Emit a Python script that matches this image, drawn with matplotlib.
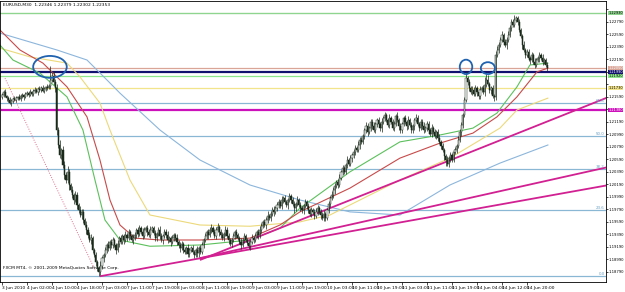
import numpy as np
import matplotlib
matplotlib.use('Agg')
import matplotlib.pyplot as plt
from matplotlib.patches import Ellipse

# EURUSD M30 closes, one per bar (3 Jun 18:00 -> 15 Jun 02:00)
closes = [
    1.2162, 1.2167, 1.2160, 1.2157, 1.2154, 1.2149, 1.2152, 1.2156, 1.2154, 1.2157,
    1.2159, 1.2156, 1.2160, 1.2162, 1.2159, 1.2164, 1.2165, 1.2162, 1.2167, 1.2164,
    1.2168, 1.2170, 1.2167, 1.2172, 1.2170, 1.2173, 1.2168, 1.2172, 1.2175, 1.2173,
    1.2176, 1.2186, 1.2192, 1.2183, 1.2173, 1.2106, 1.2082, 1.2066, 1.2074, 1.2050,
    1.2034, 1.2026, 1.2039, 1.2018, 1.2010, 1.2002, 1.1994, 1.2002, 1.1986, 1.1978,
    1.1970, 1.1975, 1.1962, 1.1954, 1.1946, 1.1938, 1.1930, 1.1933, 1.1914, 1.1906,
    1.1895, 1.1885, 1.1879, 1.1888, 1.1901, 1.1906, 1.1914, 1.1922, 1.1917, 1.1927,
    1.1922, 1.1930, 1.1922, 1.1914, 1.1924, 1.1933, 1.1927, 1.1936, 1.1930, 1.1938,
    1.1933, 1.1943, 1.1936, 1.1930, 1.1933, 1.1938, 1.1946, 1.1940, 1.1949, 1.1943,
    1.1936, 1.1946, 1.1949, 1.1943, 1.1938, 1.1946, 1.1949, 1.1941, 1.1933, 1.1940,
    1.1946, 1.1936, 1.1930, 1.1936, 1.1943, 1.1938, 1.1930, 1.1933, 1.1927, 1.1933,
    1.1938, 1.1933, 1.1927, 1.1922, 1.1917, 1.1924, 1.1914, 1.1911, 1.1917, 1.1908,
    1.1914, 1.1917, 1.1911, 1.1906, 1.1914, 1.1909, 1.1917, 1.1911, 1.1922, 1.1930,
    1.1936, 1.1943, 1.1938, 1.1946, 1.1949, 1.1943, 1.1936, 1.1946, 1.1951, 1.1943,
    1.1938, 1.1933, 1.1940, 1.1946, 1.1936, 1.1930, 1.1924, 1.1930, 1.1936, 1.1943,
    1.1938, 1.1933, 1.1927, 1.1922, 1.1930, 1.1936, 1.1930, 1.1925, 1.1920, 1.1927,
    1.1933, 1.1930, 1.1936, 1.1943, 1.1938, 1.1946, 1.1952, 1.1959, 1.1954, 1.1962,
    1.1968, 1.1965, 1.1972, 1.1978, 1.1975, 1.1981, 1.1986, 1.1991, 1.1984, 1.1994,
    1.1997, 1.1991, 1.1986, 1.1994, 1.2000, 1.1994, 1.1988, 1.1981, 1.1988, 1.1994,
    1.1986, 1.1981, 1.1978, 1.1984, 1.1991, 1.1984, 1.1978, 1.1972, 1.1978, 1.1975,
    1.1968, 1.1975, 1.1981, 1.1975, 1.1970, 1.1965, 1.1972, 1.1965, 1.1978, 1.1988,
    1.1997, 1.2002, 1.2010, 1.2016, 1.2023, 1.2018, 1.2029, 1.2039, 1.2045, 1.2039,
    1.2050, 1.2058, 1.2052, 1.2061, 1.2066, 1.2071, 1.2077, 1.2074, 1.2082, 1.2090,
    1.2087, 1.2096, 1.2106, 1.2112, 1.2103, 1.2109, 1.2119, 1.2112, 1.2106, 1.2116,
    1.2122, 1.2116, 1.2109, 1.2119, 1.2125, 1.2130, 1.2122, 1.2114, 1.2125, 1.2119,
    1.2109, 1.2116, 1.2128, 1.2122, 1.2112, 1.2106, 1.2116, 1.2125, 1.2119, 1.2112,
    1.2122, 1.2114, 1.2106, 1.2112, 1.2122, 1.2125, 1.2116, 1.2109, 1.2119, 1.2112,
    1.2106, 1.2109, 1.2116, 1.2106, 1.2100, 1.2109, 1.2103, 1.2096, 1.2103, 1.2093,
    1.2087, 1.2080, 1.2074, 1.2064, 1.2058, 1.2052, 1.2061, 1.2066, 1.2058, 1.2071,
    1.2074, 1.2080, 1.2090, 1.2103, 1.2114, 1.2130, 1.2154, 1.2189, 1.2183, 1.2173,
    1.2167, 1.2170, 1.2164, 1.2173, 1.2167, 1.2160, 1.2170, 1.2173, 1.2167, 1.2178,
    1.2186, 1.2179, 1.2170, 1.2173, 1.2160, 1.2158, 1.2226, 1.2234, 1.2242, 1.2250,
    1.2258, 1.2247, 1.2242, 1.2250, 1.2258, 1.2269, 1.2279, 1.2274, 1.2282, 1.2285,
    1.2279, 1.2266, 1.2256, 1.2242, 1.2234, 1.2226, 1.2231, 1.2221, 1.2218, 1.2226,
    1.2215, 1.2210, 1.2218, 1.2221, 1.2226, 1.2221, 1.2215, 1.2218, 1.2210, 1.2205,
]
first_open = 1.2158

# wick lengths above / below the body, in pips
up_wick = [
    4, 3, 5, 2, 3, 4, 3, 2, 4, 3,
    2, 5, 3, 4, 2, 3, 4, 3, 5, 2,
    3, 4, 3, 2, 4, 3, 5, 3, 2, 4,
    3, 22, 6, 8, 4, 6, 5, 8, 4, 6,
    7, 5, 9, 4, 3, 6, 4, 7, 5, 3,
    6, 4, 5, 3, 6, 4, 5, 7, 3, 4,
    5, 3, 4, 8, 4, 3, 5, 4, 6, 3,
    4, 5, 3, 4, 6, 3, 5, 4, 3, 6,
    4, 5, 3, 4, 6, 5, 3, 4, 5, 3,
    6, 4, 3, 5, 4, 6, 3, 4, 5, 3,
    4, 6, 5, 3, 4, 5, 6, 3, 4, 5,
    3, 4, 6, 3, 5, 4, 3, 5, 4, 6,
    3, 4, 5, 3, 4, 6, 3, 5, 5, 4,
    6, 3, 4, 5, 7, 3, 4, 5, 6, 3,
    4, 5, 3, 6, 4, 5, 3, 4, 6, 3,
    5, 4, 3, 6, 4, 5, 3, 4, 5, 3,
    6, 4, 5, 3, 4, 6, 5, 3, 4, 5,
    8, 3, 4, 5, 6, 3, 4, 5, 3, 6,
    4, 5, 3, 4, 6, 3, 5, 4, 3, 6,
    4, 5, 3, 4, 5, 3, 6, 4, 5, 3,
    4, 6, 5, 3, 4, 5, 6, 3, 4, 5,
    3, 6, 4, 5, 3, 4, 6, 3, 5, 4,
    3, 6, 4, 5, 3, 4, 5, 3, 6, 4,
    5, 3, 4, 6, 5, 3, 4, 5, 6, 3,
    4, 5, 3, 6, 4, 5, 3, 4, 6, 3,
    5, 4, 3, 6, 4, 5, 3, 4, 5, 3,
    6, 4, 5, 3, 4, 6, 5, 3, 4, 5,
    6, 3, 4, 5, 3, 6, 4, 5, 3, 4,
    6, 3, 5, 4, 3, 6, 4, 5, 3, 4,
    5, 3, 6, 4, 5, 3, 4, 12, 4, 5,
    3, 6, 4, 5, 3, 4, 6, 3, 5, 12,
    10, 8, 4, 3, 5, 4, 6, 6, 5, 4,
    7, 3, 5, 4, 6, 5, 4, 5, 8, 3,
    4, 5, 3, 4, 6, 3, 5, 4, 3, 5,
    4, 6, 3, 4, 5, 3, 6, 4, 3, 4,
]
dn_wick = [
    3, 4, 2, 5, 3, 2, 4, 3, 2, 4,
    3, 2, 4, 3, 5, 2, 3, 4, 2, 3,
    4, 3, 2, 5, 3, 4, 2, 3, 4, 3,
    2, 4, 3, 5, 6, 8, 5, 4, 7, 5,
    6, 4, 5, 8, 4, 5, 6, 4, 7, 5,
    4, 6, 5, 4, 7, 5, 4, 6, 5, 4,
    6, 5, 7, 5, 4, 6, 3, 5, 4, 3,
    5, 4, 3, 6, 4, 5, 3, 4, 6, 3,
    4, 3, 5, 4, 6, 3, 4, 5, 3, 4,
    5, 3, 4, 6, 3, 5, 4, 3, 5, 4,
    3, 5, 4, 6, 3, 4, 5, 3, 6, 4,
    4, 3, 5, 4, 6, 3, 5, 4, 3, 5,
    6, 4, 3, 5, 4, 6, 7, 3, 4, 5,
    3, 4, 6, 3, 5, 4, 3, 5, 4, 6,
    4, 3, 5, 4, 3, 6, 4, 5, 3, 4,
    5, 3, 4, 6, 3, 5, 4, 3, 5, 6,
    3, 5, 4, 3, 6, 4, 5, 3, 4, 6,
    4, 3, 5, 4, 6, 3, 4, 5, 3, 4,
    5, 3, 4, 6, 3, 5, 4, 7, 5, 4,
    3, 5, 4, 6, 3, 4, 5, 3, 6, 4,
    4, 3, 5, 4, 6, 3, 4, 5, 3, 4,
    5, 3, 4, 6, 3, 5, 4, 3, 5, 4,
    3, 5, 4, 3, 6, 4, 5, 3, 4, 6,
    4, 3, 5, 4, 6, 3, 4, 5, 3, 4,
    5, 3, 4, 6, 3, 5, 4, 3, 5, 4,
    3, 5, 4, 3, 6, 4, 5, 3, 4, 6,
    4, 3, 5, 4, 6, 3, 4, 5, 3, 4,
    5, 3, 4, 6, 3, 5, 4, 3, 5, 4,
    3, 5, 4, 6, 10, 4, 5, 6, 4, 3,
    4, 5, 3, 4, 6, 5, 4, 3, 5, 4,
    3, 5, 4, 3, 6, 4, 5, 3, 4, 6,
    4, 3, 5, 6, 3, 5, 4, 3, 5, 4,
    3, 5, 4, 6, 3, 4, 5, 3, 4, 3,
    5, 4, 3, 6, 4, 5, 3, 4, 6, 3,
    4, 5, 3, 4, 6, 3, 5, 4, 3, 4,
]

# moving averages: (bar index, price)
ma_red_x = [-1.3, 11.5, 26.2, 41.6, 54.4, 62.7, 69.1, 75.5, 85.1, 101.1, 126.7,
            158.7, 177.9, 190.7, 222.7, 254.7, 280.3, 301.4, 316.8, 329.6, 342.4, 349.4]
ma_red_y = [1.2266, 1.2234, 1.2213, 1.2175, 1.2127, 1.2058, 1.1994, 1.1954, 1.1933, 1.1930, 1.1930,
            1.1933, 1.1954, 1.1975, 1.2013, 1.2061, 1.2085, 1.2101, 1.2127, 1.2159, 1.2199, 1.2205]
ma_green_x = [-1.3, 7.0, 24.3, 41.6, 51.8, 59.5, 65.9, 75.5, 94.7, 126.7, 158.7,
              177.9, 190.7, 222.7, 254.7, 280.3, 301.4, 316.8, 329.6, 337.9, 349.4]
ma_green_y = [1.2242, 1.2218, 1.2197, 1.2159, 1.2106, 1.2026, 1.1962, 1.1930, 1.1920, 1.1922, 1.1930,
              1.1949, 1.1981, 1.2039, 1.2087, 1.2098, 1.2109, 1.2133, 1.2175, 1.2210, 1.2213]
ma_yellow_x = [-1.3, 17.9, 41.6, 49.9, 62.7, 69.1, 81.9, 94.7, 126.7, 158.7, 190.7,
               209.9, 254.7, 286.7, 318.7, 329.6, 349.4]
ma_yellow_y = [1.2237, 1.2223, 1.2213, 1.2191, 1.2149, 1.2106, 1.2026, 1.1970, 1.1954, 1.1952, 1.1959,
               1.1970, 1.2026, 1.2061, 1.2109, 1.2138, 1.2157]
ma_blue_x = [-1.3, 35.2, 54.4, 67.2, 75.5, 101.1, 126.7, 158.7, 190.7, 222.7, 254.7,
             286.7, 318.7, 349.4]
ma_blue_y = [1.2261, 1.2234, 1.2218, 1.2186, 1.2165, 1.2106, 1.2058, 1.2018, 1.1994, 1.1975, 1.1970,
             1.2018, 1.2053, 1.2082]

# horizontal levels and trend lines drawn on the chart
h_levels = [1.2293, 1.2205, 1.2199, 1.2192, 1.2173, 1.2138]
h_colors = ['#8fd48f', '#d9a596', '#10106e', '#8ee88e', '#f2e48a', '#cc11bb']
h_widths = [1.0, 0.9, 1.6, 0.9, 0.9, 1.6]
h_labels = ['1.22930', '1.22050', '1.21990', '1.21920', '1.21730', '1.21380']

fib_low, fib_high = 1.1872, 1.2320
fib_ratios = [0.0, 0.236, 0.382, 0.5, 0.618]
fib_names = ['0.0', '23.6', '38.2', '50.0', '61.8']

trend_x = [(126.7, 388.5), (126.7, 388.5), (62.7, 388.5)]
trend_y = [(1.1898, 1.2159), (1.1901, 1.2047), (1.1872, 1.2018)]
sar_x, sar_y = (1.9, 59.5), (1.2189, 1.1882)

circled_x = [30.7, 297.0, 311.0]
circled_y = [1.2207, 1.2207, 1.2205]

time_labels = ['3 Jun 2010', '4 Jun 02:00', '4 Jun 10:00', '4 Jun 18:00', '7 Jun 03:00',
               '7 Jun 11:00', '7 Jun 19:00', '8 Jun 03:00', '8 Jun 11:00', '8 Jun 19:00',
               '9 Jun 03:00', '9 Jun 11:00', '9 Jun 19:00', '10 Jun 03:00', '10 Jun 11:00',
               '10 Jun 19:00', '11 Jun 03:00', '11 Jun 11:00', '11 Jun 19:00', '14 Jun 04:00',
               '14 Jun 12:00', '14 Jun 20:00']
price_ticks = [1.1879, 1.1899, 1.1919, 1.1939, 1.1959, 1.1979, 1.1999, 1.2019, 1.2039, 1.2059, 1.2079,
               1.2099, 1.2119, 1.2139, 1.2159, 1.2179, 1.2199, 1.2219, 1.2239, 1.2259, 1.2279, 1.2299]

narrow = ['Liberation Sans Narrow', 'DejaVu Sans']
fs = 3.2
yfs = 2.7
fig = plt.figure(figsize=(6.25, 2.92), dpi=100)
ax = fig.add_axes([0.0, 1 - 282 / 292, 606 / 625, 281 / 292])
ax.set_xlim(-1.28, 386.6)
ax.set_ylim(1.18628, 1.23124)

# fib levels
for r, name in zip(fib_ratios, fib_names):
    lvl = fib_low + r * (fib_high - fib_low)
    ax.axhline(lvl, color='#8ab8d4', lw=0.9, zorder=1)
    ax.text(385.9, lvl + 0.00008, name, fontsize=yfs + 0.2, color='#6a9fc4', family=narrow,
            ha='right', va='bottom', zorder=5)

for lvl, c, w in zip(h_levels, h_colors, h_widths):
    ax.axhline(lvl, color=c, lw=w, zorder=1)

ax.plot(ma_blue_x, ma_blue_y, color='#8cb6dc', lw=0.8, zorder=2)
ax.plot(ma_yellow_x, ma_yellow_y, color='#ecd97a', lw=0.8, zorder=2)
ax.plot(ma_green_x, ma_green_y, color='#5cc05c', lw=0.8, zorder=2)
ax.plot(ma_red_x, ma_red_y, color='#c84a4a', lw=0.8, zorder=2)
ax.plot(sar_x, sar_y, color='#e07090', lw=0.7, ls=(0, (1, 1.5)), zorder=2)

for tx, ty in zip(trend_x, trend_y):
    ax.plot(tx, ty, color='#d21f92', lw=1.3, zorder=3, solid_capstyle='butt')

# candles
c = np.array(closes)
o = np.array([first_open] + closes[:-1])
idx = np.arange(len(c))
hi = np.maximum(o, c) + np.array(up_wick) * 1e-4
lo = np.minimum(o, c) - np.array(dn_wick) * 1e-4
ax.vlines(idx, lo, hi, color='#1a2a1a', lw=0.5, zorder=4)
bull = c >= o
body = np.maximum(np.abs(c - o), 0.00003)
ax.bar(idx[bull], body[bull], bottom=o[bull], width=0.75, color='white',
       edgecolor='#1a2a1a', lw=0.35, zorder=4)
ax.bar(idx[~bull], body[~bull], bottom=c[~bull], width=0.75, color='#1a2a1a',
       edgecolor='#1a2a1a', lw=0.35, zorder=4)

for ex, ey, w, h in zip(circled_x, circled_y, [21.5, 8.0, 9.0], [0.0035, 0.0023, 0.0019]):
    ax.add_patch(Ellipse((ex, ey), w, h, fill=False, ec='#1f62b0', lw=1.3, zorder=6))

# axes styling; plain scale labels that would sit under a line label are left out
ax.yaxis.tick_right()
ax.set_yticks(price_ticks)
free = [min(abs(p - l) for l in h_levels) > 0.0008 for p in price_ticks]
ax.set_yticklabels([f'{p:.5f}' if ok else '' for p, ok in zip(price_ticks, free)])
ax.set_xticks(np.arange(len(time_labels)) * 16)
ax.set_xticklabels(time_labels)
for t in ax.get_xticklabels():
    t.set_ha('left')
    t.set_family(narrow)
for t in ax.get_yticklabels():
    t.set_family(narrow)
ax.tick_params(axis='x', labelsize=fs, length=2, width=0.5, pad=1.0)
ax.tick_params(axis='y', labelsize=yfs, length=1.5, width=0.5, pad=0.5)
for s in ax.spines.values():
    s.set_linewidth(0.6)

# highlighted price labels for the horizontal lines
for lvl, col, lab in zip(h_levels, h_colors, h_labels):
    tc = 'white' if col in ('#10106e', '#cc11bb', '#d9a596') else 'black'
    ax.text(1.0035, lvl, lab, transform=ax.get_yaxis_transform(), fontsize=yfs - 0.2,
            family=narrow, color=tc, va='center', ha='left', clip_on=False,
            bbox=dict(boxstyle='square,pad=0.05', fc=col, ec='none'))

fig.text(3 / 625, 1 - 5 / 292, 'EURUSD,M30  1.22346 1.22379 1.22302 1.22353',
         fontsize=fs, va='center', ha='left')
ax.text(3 / 606, 0.05, 'FXCM MT4, \u00a9 2001-2009 MetaQuotes Software Corp.',
        transform=ax.transAxes, fontsize=fs, va='center', ha='left')

fig.savefig('out.png', dpi=100)
